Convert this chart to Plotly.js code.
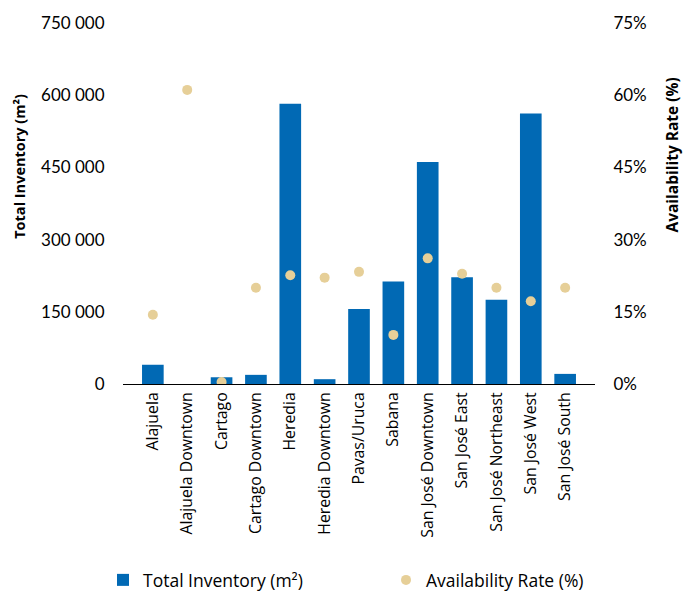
<!DOCTYPE html>
<html><head><meta charset="utf-8">
<script src="https://cdn.plot.ly/plotly-3.0.1.min.js"></script>
<style>body{margin:0;background:#fff}#chart{width:683px;height:591px}</style>
</head><body><div id="chart"></div>
<script>
const categories = ["Alajuela","Alajuela Downtown","Cartago","Cartago Downtown","Heredia","Heredia Downtown","Pavas/Uruca","Sabana","San José Downtown","San José East","San José Northeast","San José West","San José South"];
const totalInventory = [40000, 0, 14000, 19000, 582000, 10000, 156000, 213000, 461000, 222000, 175000, 562000, 21000];
const availabilityRate = [14.4, 61.1, 0.4, 20.0, 22.6, 22.1, 23.3, 10.2, 26.1, 22.9, 20.0, 17.2, 20.0];
const leftTicks = [0,150000,300000,450000,600000,750000];
const rightTicks = [0,15,30,45,60,75];
const rightTickText = ["0%","15%","30%","45%","60%","75%"];
const leftTitle = 'Total Inventory (m²)';
const rightTitle = 'Availability Rate (%)';

const NUM = "Lato, sans-serif";
const TXT = "'Open Sans', sans-serif";
const data = [
  {type:'bar', x:categories, y:totalInventory, name:'Total Inventory (m²)',
   marker:{color:'#0169b4', line:{width:0}}, yaxis:'y', legend:'legend'},
  {type:'scatter', mode:'markers', x:categories, y:availabilityRate, name:'Availability Rate (%)',
   marker:{color:'#e6cf98', size:10}, yaxis:'y2', legend:'legend2'}
];
const legendCommon = {orientation:'h', xref:'container', yref:'container', xanchor:'left', yanchor:'middle',
  y:1-580/591, font:{size:17.5, color:'#000', family:TXT}, itemwidth:30, bgcolor:'rgba(0,0,0,0)', borderwidth:0};
const plotTop = 23, plotH = 361;
const layout = {
  width:683, height:591,
  margin:{l:123, r:88, t:plotTop, b:207, autoexpand:false},
  paper_bgcolor:'#fff', plot_bgcolor:'#fff',
  separators:', ',
  font:{family:NUM, color:'#000', size:17},
  bargap:0.37,
  showlegend:true,
  legend:Object.assign({}, legendCommon, {x:103/683}),
  legend2:Object.assign({}, legendCommon, {x:386/683}),
  xaxis:{type:'category', tickangle:-90, tickfont:{size:15.8, family:TXT}, showline:true, linecolor:'#000', linewidth:1,
         ticks:'outside', ticklen:1, tickcolor:'rgba(0,0,0,0)', showgrid:false, zeroline:false, automargin:false, fixedrange:true},
  yaxis:{range:[0,750000], tickmode:'array', tickvals:leftTicks, tickformat:',d', showgrid:false, zeroline:false,
         showline:false, ticks:'outside', ticklen:14, tickcolor:'rgba(0,0,0,0)', tickfont:{size:17, family:NUM}, automargin:false},
  yaxis2:{overlaying:'y', side:'right', range:[0,75], tickmode:'array', tickvals:rightTicks, ticktext:rightTickText, showgrid:false,
          zeroline:false, showline:false, ticks:'outside', ticklen:14, tickcolor:'rgba(0,0,0,0)', tickfont:{size:17, family:NUM}, automargin:false},
  annotations:[
    {text:leftTitle, textangle:-90, xref:'paper', yref:'paper', x:(18.8-123)/472, y:(plotTop+plotH-166)/plotH,
     xanchor:'center', yanchor:'middle', showarrow:false, font:{size:14.5, family:TXT, weight:'bold', color:'#000'}},
    {text:rightTitle, textangle:-90, xref:'paper', yref:'paper', x:(671.5-123)/472, y:(plotTop+plotH-155)/plotH,
     xanchor:'center', yanchor:'middle', showarrow:false, font:{size:15.5, family:TXT, weight:'bold', color:'#000'}}
  ]
};
Plotly.newPlot('chart', data, layout, {staticPlot:true, displayModeBar:false});
</script></body></html>
